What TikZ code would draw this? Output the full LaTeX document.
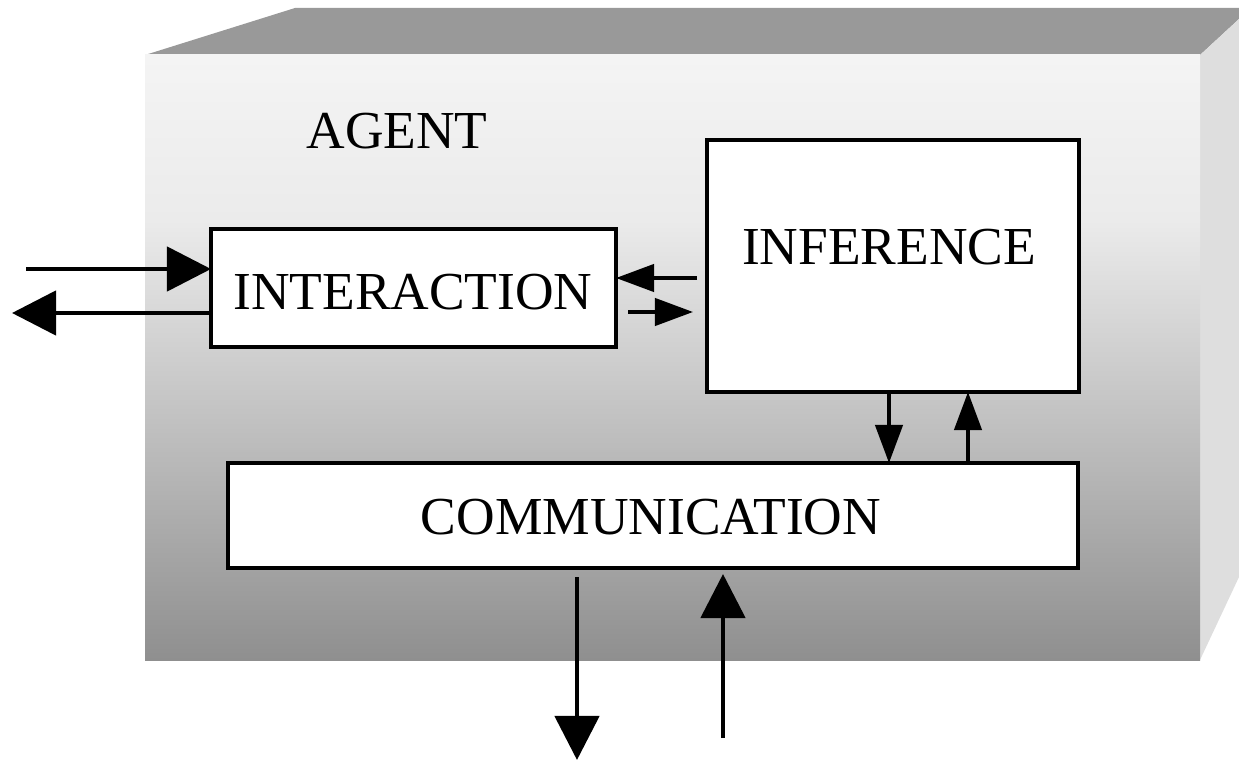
\documentclass[tikz,border=0pt]{standalone}
\usepackage{fontspec}
\setmainfont{Liberation Serif}
\usetikzlibrary{arrows.meta}
\newcommand{\pxu}{0.025cm}
\definecolor{topface}{HTML}{999999}
\definecolor{sideface}{HTML}{DEDEDE}
\definecolor{frontA}{HTML}{F4F4F4}
\definecolor{frontB}{HTML}{EBEBEB}
\definecolor{frontC}{HTML}{8F8F8F}
\tikzset{
  module/.style={draw=black, fill=white, line width=2.5pt, inner sep=0pt, outer sep=0pt},
  label/.style={font=\fontsize{38}{40}\selectfont, inner sep=0pt},
  bigarrow/.style={line width=3.3pt, -{Triangle[length=1.1cm, width=1.1cm]}},
  smallarrow/.style={line width=2.6pt, -{Triangle[length=0.95cm, width=0.68cm]}}
}
\begin{document}
\begin{tikzpicture}[x=0.025cm, y=-0.025cm]
\useasboundingbox (0,0) rectangle (1239,761);
% 3D agent block
\fill[topface] (145,55) -- (295,8) -- (1239,8) -- (1239,19) -- (1200,55) -- cycle;
\fill[sideface] (1200,55) -- (1239,19) -- (1239,577) -- (1200,660) -- cycle;
\shade[top color=frontA, bottom color=frontB] (145,55) rectangle (1200,221);
\shade[top color=frontB, bottom color=frontC] (145,220) rectangle (1200,660);
\node[label] (agent) at (397,131) {AGENT};
% modules
\node[module, minimum width=405*\pxu, minimum height=118*\pxu] (inter) at (413.5,288) {};
\node[module, minimum width=372*\pxu, minimum height=252*\pxu] (infer) at (893,266) {};
\node[module, minimum width=850*\pxu, minimum height=105*\pxu] (comm) at (653,515.5) {};
\node[label] (intertext) at (413,292) {INTERACTION};
\node[label] (infertext) at (889,247) {INFERENCE};
\node[label] (commtext) at (651,517) {COMMUNICATION};
% free ends
\coordinate (inL) at (26,269);
\coordinate (outL) at (12,313);
\coordinate (fbS) at (697,278);
\coordinate (ffS) at (628,312);
\coordinate (ffE) at (693,312);
\coordinate (dnX) at (889,0);
\coordinate (upX) at (968,0);
\coordinate (outS) at (577,577);
\coordinate (outE) at (577,760);
\coordinate (inS) at (723,738);
\coordinate (inE) at (723,574);
% connectors
\draw[bigarrow] (inL) -- (inL -| inter.west);
\draw[bigarrow] (outL -| inter.west) -- (outL);
\draw[smallarrow] (fbS) -- (fbS -| inter.east);
\draw[smallarrow] (ffS) -- (ffE);
\draw[smallarrow] (dnX |- infer.south) -- (dnX |- comm.north);
\draw[smallarrow] (upX |- comm.north) -- (upX |- infer.south);
\draw[bigarrow] (outS) -- (outE);
\draw[bigarrow] (inS) -- (inE);
\end{tikzpicture}
\end{document}
